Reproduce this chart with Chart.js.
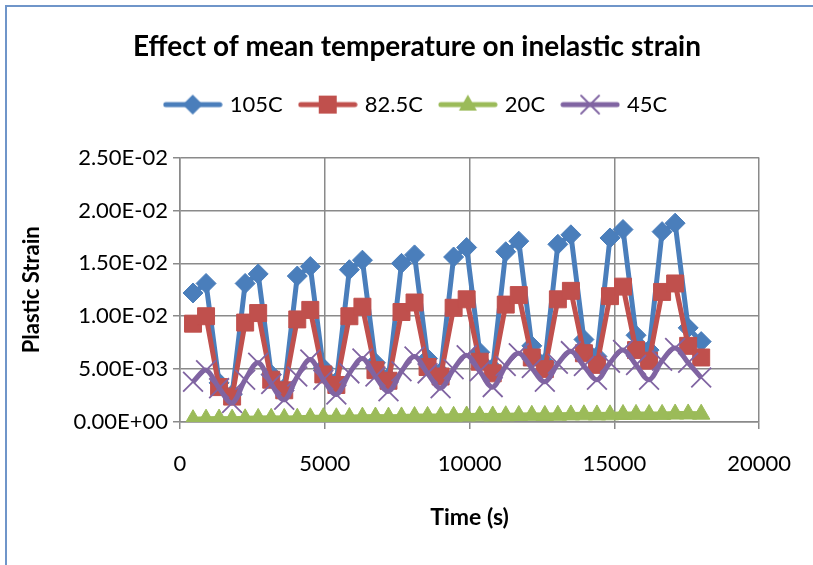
<!DOCTYPE html>
<html>
<head>
<meta charset="utf-8">
<script src="https://cdn.jsdelivr.net/npm/chart.js@4.4.1/dist/chart.umd.min.js"></script>
<style>
  html, body { margin: 0; padding: 0; background: #ffffff; }
  #wrap { position: relative; width: 813px; height: 565px; overflow: hidden; }
  #frame { position: absolute; left: 5px; top: 5px; width: 900px; height: 700px;
           border-left: 2px solid #6f95c9; border-top: 2px solid #6f95c9; pointer-events: none; }
  canvas { position: absolute; left: 0; top: 0; }
</style>
</head>
<body>
<div id="wrap">
  <canvas id="chart" width="813" height="565"></canvas>
  <div id="frame"></div>
</div>
<script>
// Sampling times (s)
const timeS = [450, 900, 1350, 1800, 2250, 2700, 3150, 3600, 4050, 4500,
  4950, 5400, 5850, 6300, 6750, 7200, 7650, 8100, 8550, 9000,
  9450, 9900, 10350, 10800, 11250, 11700, 12150, 12600, 13050, 13500,
  13950, 14400, 14850, 15300, 15750, 16200, 16650, 17100, 17550, 18000];

// Plastic strain at each mean temperature
const strain105C = [0.0122, 0.0131, 0.0037, 0.0026, 0.0131, 0.0140, 0.0045, 0.0032,
  0.0138, 0.0147, 0.0051, 0.0038, 0.0144, 0.0153, 0.0056, 0.0042,
  0.0150, 0.0158, 0.0060, 0.0047, 0.0156, 0.0165, 0.0066, 0.0051,
  0.0161, 0.0171, 0.0072, 0.0056, 0.0168, 0.0177, 0.0078, 0.0062,
  0.0174, 0.0182, 0.0082, 0.0068, 0.0180, 0.0188, 0.0089, 0.0076];

const strain82_5C = [0.0093, 0.0100, 0.0033, 0.0024, 0.0094, 0.0103, 0.0040, 0.0030,
  0.0097, 0.0106, 0.0045, 0.0035, 0.0100, 0.0109, 0.0049, 0.0039,
  0.0104, 0.0113, 0.0052, 0.0043, 0.0108, 0.0116, 0.0057, 0.0046,
  0.0111, 0.0120, 0.0061, 0.0050, 0.0116, 0.0124, 0.0065, 0.0054,
  0.0119, 0.0128, 0.0068, 0.0058, 0.0123, 0.0131, 0.0072, 0.0061];

const strain20C = [0.00022, 0.00027, 0.00028, 0.00027, 0.00030, 0.00034, 0.00035, 0.00034,
  0.00036, 0.00040, 0.00041, 0.00040, 0.00042, 0.00046, 0.00047, 0.00046,
  0.00048, 0.00052, 0.00053, 0.00052, 0.00054, 0.00057, 0.00058, 0.00057,
  0.00059, 0.00062, 0.00063, 0.00062, 0.00064, 0.00067, 0.00068, 0.00067,
  0.00068, 0.00071, 0.00072, 0.00071, 0.00072, 0.00075, 0.00076, 0.00074];

const strain45C = [0.0038, 0.0049, 0.0032, 0.0018, 0.0040, 0.0056, 0.0036, 0.0021,
  0.0043, 0.0059, 0.0040, 0.0026, 0.0046, 0.0060, 0.0043, 0.0029,
  0.0048, 0.0062, 0.0046, 0.0032, 0.0050, 0.0063, 0.0048, 0.0033,
  0.0053, 0.0065, 0.0051, 0.0038, 0.0055, 0.0067, 0.0053, 0.0040,
  0.0056, 0.0068, 0.0054, 0.0040, 0.0058, 0.0070, 0.0056, 0.0042];

const seriesNames = ['105C', '82.5C', '20C', '45C'];
const seriesColors = ['#4a7ebb', '#c0504d', '#9bbb59', '#8064a2'];

const xTickLabels = ['0', '5000', '10000', '15000', '20000'];
const yTickLabels = ['0.00E+00', '5.00E-03', '1.00E-02', '1.50E-02', '2.00E-02', '2.50E-02'];

const FONT = 'Lato, "Open Sans", "Liberation Sans", sans-serif';

function pairs(ys) {
  return timeS.map((t, i) => ({ x: t, y: ys[i] }));
}

// Legend swatch: a short line with the series marker in the middle
function swatch(color, shape) {
  const c = document.createElement('canvas');
  c.width = 60; c.height = 26;
  const g = c.getContext('2d');
  const cx = 30, cy = 13;
  g.strokeStyle = color; g.fillStyle = color;
  g.lineWidth = 5; g.lineCap = 'round';
  g.beginPath(); g.moveTo(3, cy); g.lineTo(57, cy); g.stroke();
  g.lineWidth = 1.8;
  g.beginPath();
  if (shape === 'diamond') {
    g.moveTo(cx, cy - 10); g.lineTo(cx + 10, cy); g.lineTo(cx, cy + 10); g.lineTo(cx - 10, cy); g.closePath(); g.fill();
  } else if (shape === 'square') {
    g.rect(cx - 9, cy - 9, 18, 18); g.fill();
  } else if (shape === 'triangle') {
    g.moveTo(cx, cy - 10); g.lineTo(cx + 9, cy + 6); g.lineTo(cx - 9, cy + 6); g.closePath(); g.fill();
  } else {
    g.moveTo(cx - 9, cy - 9); g.lineTo(cx + 9, cy + 9);
    g.moveTo(cx + 9, cy - 9); g.lineTo(cx - 9, cy + 9); g.stroke();
  }
  return c;
}
const swatches = [
  swatch(seriesColors[0], 'diamond'),
  swatch(seriesColors[1], 'square'),
  swatch(seriesColors[2], 'triangle'),
  swatch(seriesColors[3], 'cross')
];

const GRID = '#8a8a8a';

new Chart(document.getElementById('chart'), {
  type: 'line',
  data: {
    datasets: [
      {
        label: seriesNames[0], data: pairs(strain105C), order: 4,
        borderColor: seriesColors[0], backgroundColor: seriesColors[0], borderWidth: 5,
        pointStyle: 'rectRot', pointRadius: 10, pointBorderWidth: 1, tension: 0
      },
      {
        label: seriesNames[1], data: pairs(strain82_5C), order: 3,
        borderColor: seriesColors[1], backgroundColor: seriesColors[1], borderWidth: 5,
        pointStyle: 'rect', pointRadius: 12, pointBorderWidth: 1, tension: 0
      },
      {
        label: seriesNames[2], data: pairs(strain20C), order: 2,
        borderColor: seriesColors[2], backgroundColor: seriesColors[2], borderWidth: 6,
        pointStyle: 'triangle', pointRadius: 10, pointBorderWidth: 1, tension: 0
      },
      {
        label: seriesNames[3], data: pairs(strain45C), order: 1,
        borderColor: seriesColors[3], backgroundColor: seriesColors[3], borderWidth: 5,
        pointStyle: 'crossRot', pointRadius: 14, pointBorderWidth: 1.8, tension: 0.35
      }
    ]
  },
  options: {
    responsive: false,
    animation: false,
    devicePixelRatio: 1,
    layout: { padding: { left: 71, right: 50, top: 0, bottom: 20 } },
    plugins: {
      tooltip: { enabled: false },
      title: {
        display: true,
        text: 'Effect of mean temperature on inelastic strain',
        color: '#000000',
        font: { family: FONT, size: 28, weight: 'bold', lineHeight: 1.2 },
        padding: { top: 30, bottom: 11 }
      },
      legend: {
        display: true,
        position: 'top',
        labels: {
          color: '#000000',
          font: { family: FONT, size: 22 },
          usePointStyle: true,
          pointStyleWidth: 52,
          padding: 19,
          sort: (a, b) => a.datasetIndex - b.datasetIndex,
          generateLabels: (chart) => {
            const items = Chart.defaults.plugins.legend.labels.generateLabels(chart);
            items.forEach(it => { it.pointStyle = swatches[it.datasetIndex]; });
            return items;
          }
        }
      },
      subtitle: {
        display: true,
        text: '',
        weight: 500,
        font: { size: 10, lineHeight: 1 },
        padding: { top: 22, bottom: 0 }
      }
    },
    scales: {
      x: {
        type: 'linear',
        min: 0, max: 20000,
        afterFit: (scale) => { scale.height = 123; },
        ticks: {
          stepSize: 5000,
          color: '#000000',
          font: { family: FONT, size: 22 },
          padding: 22,
          maxRotation: 0,
          callback: (v, i) => xTickLabels[i]
        },
        grid: { color: GRID, lineWidth: 1.5, tickLength: 7, tickColor: GRID },
        border: { color: GRID, width: 1.5 },
        title: {
          display: true, text: 'Time (s)', color: '#000000',
          font: { family: FONT, size: 23, weight: 'bold', lineHeight: 1.2 },
          padding: { top: 0, bottom: 14 }
        }
      },
      y: {
        min: 0, max: 0.025,
        afterFit: (scale) => { scale.width = 109; },
        ticks: {
          stepSize: 0.005,
          color: '#000000',
          font: { family: FONT, size: 22 },
          padding: 5,
          callback: (v, i) => yTickLabels[i]
        },
        grid: { color: GRID, lineWidth: 1.5, tickLength: 7, tickColor: GRID },
        border: { color: GRID, width: 1.5 },
        title: {
          display: true, text: 'Plastic Strain', color: '#000000',
          font: { family: FONT, size: 22, weight: 'bold', lineHeight: 1.2 },
          padding: { top: -52, bottom: 0 }
        }
      }
    }
  }
});
</script>
</body>
</html>
